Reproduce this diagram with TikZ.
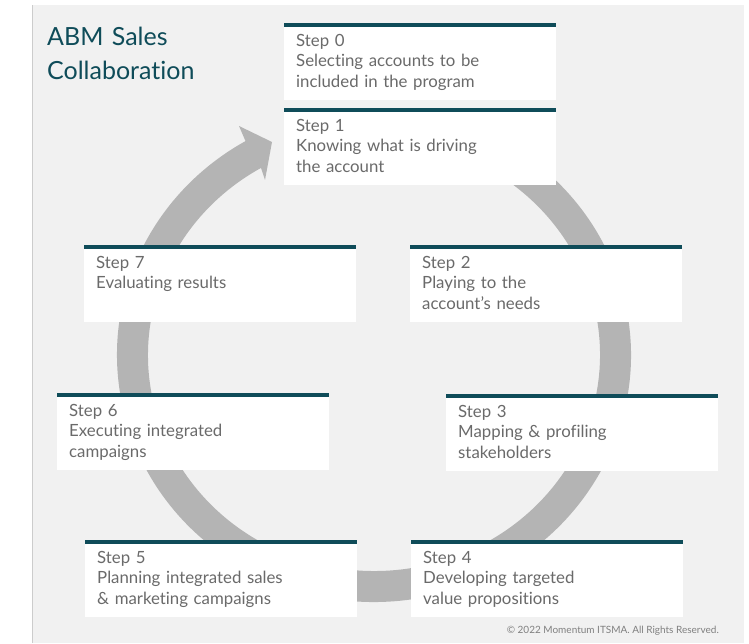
\documentclass[tikz,border=0pt]{standalone}
\usepackage{fontspec}
\setmainfont{Lato}[Ligatures=NoCommon]
\usetikzlibrary{math}

\definecolor{panelgray}{HTML}{F1F1F1}
\definecolor{ringgray}{HTML}{B4B4B4}
\definecolor{stepteal}{HTML}{0F4C59}
\definecolor{steptext}{HTML}{6A6A6A}

\begin{document}
\begin{tikzpicture}[x=1pt,y=1pt,
    stepbox/.style={fill=white, anchor=north west, inner xsep=12pt, inner ysep=0pt,
      text width=248pt, align=left, text height=23pt, text depth=54pt,
      font=\fontsize{16.8}{20.5}\selectfont, text=steptext},
    stepbar/.style={draw=stepteal, line width=4pt}]
  \useasboundingbox (0,0) rectangle (749,643);
  \fill[panelgray] (32,0) rectangle (744,638);
  \draw[black!20] (32,0) -- (32,638);

  \tikzmath{
    real \cx;
    real \cy;
    \cx = 374;
    \cy = 288;
  }
  \fill[ringgray] ({\cx+257*cos(60)},{\cy+247*sin(60)})
    arc[start angle=60, end angle=-240, x radius=257, y radius=247]
    -- (239,517) -- (272,501) -- (265,463)
    -- ({\cx+226*cos(120)},{\cy+216*sin(120)})
    arc[start angle=-240, end angle=60, x radius=226, y radius=216] -- cycle;

  \foreach \name/\x/\y/\txt in {
      s0/284/23/{Step 0\\Selecting accounts to be\\included in the program},
      s1/284/108/{Step 1\\Knowing what is driving\\the account},
      s2/410/245/{Step 2\\Playing to the\\account’s needs},
      s3/446/394/{Step 3\\Mapping \& profiling\\stakeholders},
      s4/411/540/{Step 4\\Developing targeted\\value propositions},
      s5/85/540/{Step 5\\Planning integrated sales\\\& marketing campaigns},
      s6/57/393/{Step 6\\Executing integrated\\campaigns},
      s7/84/245/{Step 7\\Evaluating results}} {
    \node[stepbox] (\name) at (\x,643-\y) {\txt};
    \draw[stepbar] ([yshift=-2pt]\name.north west) -- ([yshift=-2pt]\name.north east);
  }

  \node[anchor=base west, inner sep=0pt, text width=220pt, align=left, text=stepteal,
    font=\fontsize{25}{34}\selectfont] (title) at (47,597) {ABM Sales\\Collaboration};
  \node[anchor=base east, inner sep=0pt, text=black!50,
    font=\fontsize{10}{12}\selectfont] (note) at (719,10) {© 2022 Momentum ITSMA. All Rights Reserved.};
\end{tikzpicture}
\end{document}
